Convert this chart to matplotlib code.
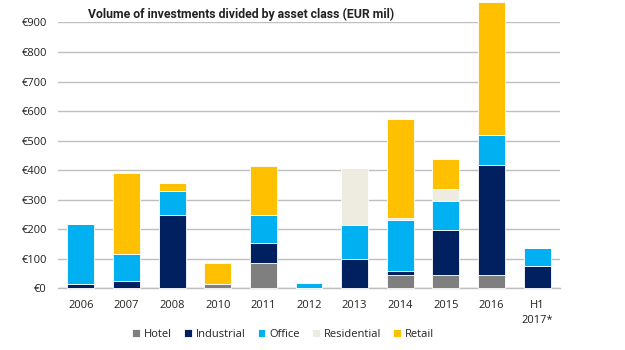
import matplotlib
matplotlib.use("Agg")
import matplotlib.pyplot as plt
import numpy as np

categories = ["2006", "2007", "2008", "2010", "2011", "2012", "2013", "2014", "2015", "2016", "H1\n2017*"]
hotel =       [0,   0,   0,   16,  85,  0,   0,   45,  45,  45,  0]
industrial =  [15,  25,  248, 0,   70,  0,   101, 14,  152, 371, 75]
office =      [203, 92,  80,  0,   93,  18,  113, 172, 98,  103, 62]
residential = [0,   0,   0,   0,   0,   0,   193, 8,   42,  0,   0]
retail =      [0,   273, 28,  71,  165, 0,   0,   335, 101, 451, 0]

series = [("Hotel", hotel, "#7F7F7F"),
          ("Industrial", industrial, "#00205F"),
          ("Office", office, "#00B0F0"),
          ("Residential", residential, "#EEECE1"),
          ("Retail", retail, "#FFC000")]
yticks = [0, 100, 200, 300, 400, 500, 600, 700, 800, 900]

plt.rcParams['font.family'] = ['Open Sans', 'DejaVu Sans']
fig = plt.figure(figsize=(6.25, 3.5), dpi=100)
ax = fig.add_axes([0.0928, 0.176, 0.8032, 0.76])

x = np.arange(len(categories))
bottom = np.zeros(len(categories))
for name, vals, col in series:
    v = np.array(vals, dtype=float)
    ax.bar(x, v, 0.59, bottom=bottom, color=col, edgecolor="white", linewidth=0.6,
           label=name, clip_on=False, zorder=3)
    bottom += v

ax.set_xlim(-0.5, len(categories) - 0.5)
ax.set_ylim(0, 900)
ax.set_yticks(yticks)
ax.set_yticklabels([f"€{t}" for t in yticks], fontsize=8, color="#222222")
ax.set_xticks(x)
ax.set_xticklabels(categories, fontsize=8, color="#222222", linespacing=1.5)
ax.tick_params(axis="both", length=0)
ax.tick_params(axis="y", pad=8)
ax.tick_params(axis="x", pad=8)
ax.grid(axis="y", color="#BFBFBF", linewidth=1, zorder=0)
ax.set_axisbelow(True)
for s in ["top", "right", "left"]:
    ax.spines[s].set_visible(False)
ax.spines["bottom"].set_color("#BFBFBF")
ax.spines["bottom"].set_linewidth(1)

fig.text(0.141, 0.958, "Volume of investments divided by asset class (EUR mil)",
         fontsize=8.8, fontweight="bold", color="#222222", va="center",
         family=["Roboto", "DejaVu Sans"])

leg = fig.legend(loc="center", bbox_to_anchor=(0.453, 0.045), ncol=5, frameon=False,
                 fontsize=8, handlelength=0.7, handleheight=0.7, handletextpad=0.35,
                 columnspacing=1.1)
for t in leg.get_texts():
    t.set_color("#222222")

fig.savefig("out.png", dpi=100)
